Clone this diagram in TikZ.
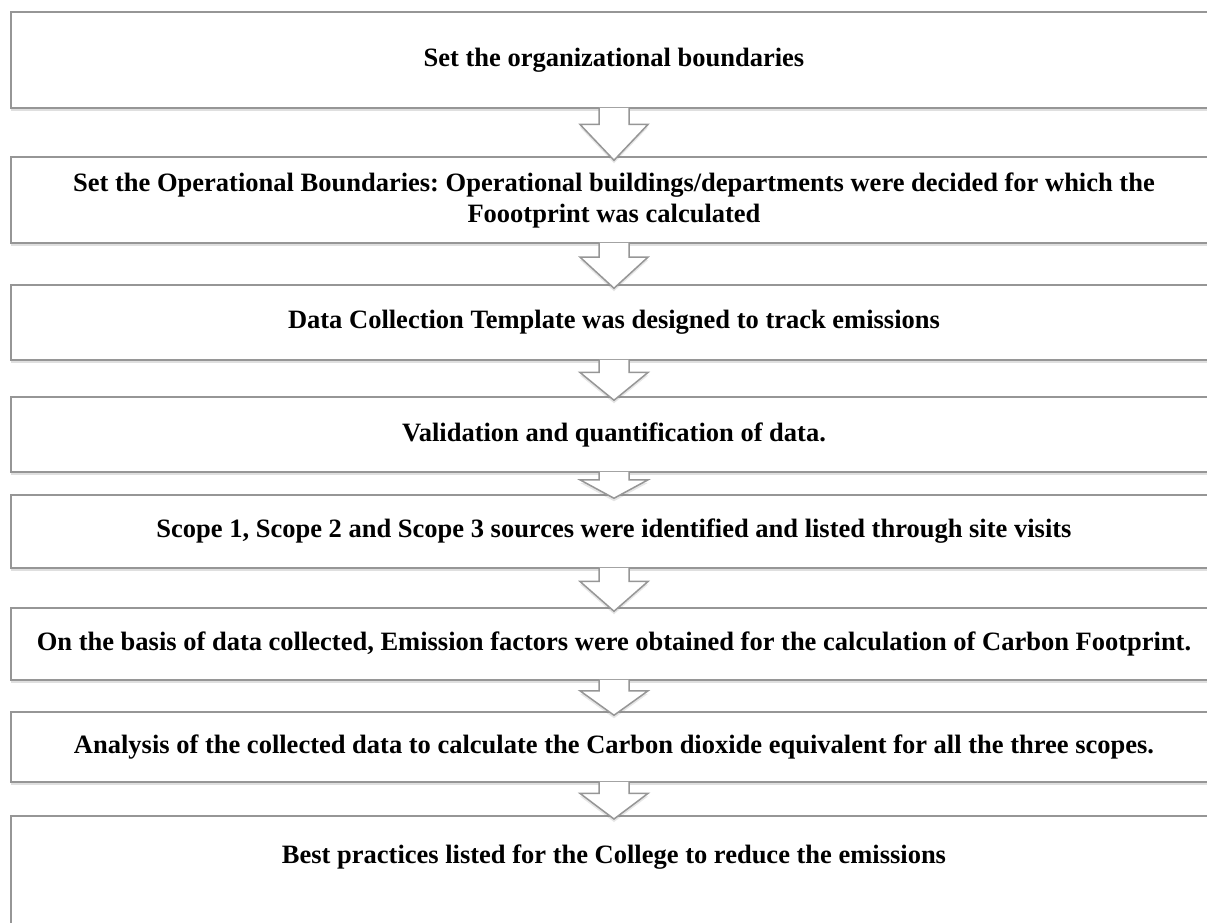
\documentclass[tikz,border=0pt]{standalone}
\usepackage{fontspec}
\setmainfont{Liberation Serif}
\frenchspacing
\usepackage{tikz}
\usetikzlibrary{calc,shadows}

\definecolor{boxgray}{RGB}{150,150,150}

\newcommand{\stepArrow}[2]{%
	\draw[steparrow] let \p1=(#1.south), \p2=(#2.north), \n1={\y1-0.33*(\y1-\y2)}, \n2={\y2-4pt} in
	(\x1-15pt,\y1+1pt) -- (\x1-15pt,\n1) -- (\x1-34pt,\n1) -- (\x1,\n2) -- (\x1+34pt,\n1) -- (\x1+15pt,\n1) -- (\x1+15pt,\y1+1pt);
}

\begin{document}
\begin{tikzpicture}[x=1pt,y=-1pt,
	stepbox/.style={draw=boxgray, line width=1.5pt, fill=white, minimum width=1206pt, inner sep=0pt, align=center, font=\fontsize{26.5}{31}\selectfont\bfseries, drop shadow={shadow xshift=0pt, shadow yshift=-3pt, opacity=0.25}},
	steptext/.style={inner sep=0pt, align=center, font=\fontsize{26.5}{31}\selectfont\bfseries},
	steparrow/.style={draw=boxgray, line width=1.5pt, fill=white, drop shadow={shadow xshift=0pt, shadow yshift=-3pt, opacity=0.2}}]
	\useasboundingbox (0,0) rectangle (1207,922);
	\clip (0,0) rectangle (1207,922);
	
	\node[stepbox, minimum height=96] (b1) at (614,60) {Set the organizational boundaries};
	\node[stepbox, minimum height=86] (b2) at (614,200) {Set the Operational Boundaries: Operational buildings/departments were decided for which the\\Foootprint was calculated};
	\node[stepbox, minimum height=75] (b3) at (614,322.5) {Data Collection Template was designed to track emissions};
	\node[stepbox, minimum height=75] (b4) at (614,434.5) {Validation and quantification of data.};
	\node[stepbox, minimum height=73] (b5) at (614,531.5) {Scope 1, Scope 2 and Scope 3 sources were identified and listed through site visits};
	\node[stepbox, minimum height=72] (b6) at (614,644) {On the basis of data collected, Emission factors were obtained for the calculation of Carbon Footprint.};
	\node[stepbox, minimum height=70] (b7) at (614,747) {Analysis of the collected data to calculate the Carbon dioxide equivalent for all the three scopes.};
	\node[stepbox, minimum height=130, anchor=north] (b8) at (614,815) {};
	\node[steptext] (t8) at (614,857) {Best practices listed for the College to reduce the emissions};
	
	\stepArrow{b1}{b2}
	\stepArrow{b2}{b3}
	\stepArrow{b3}{b4}
	\stepArrow{b4}{b5}
	\stepArrow{b5}{b6}
	\stepArrow{b6}{b7}
	\stepArrow{b7}{b8}
	
\end{tikzpicture}
\end{document}
